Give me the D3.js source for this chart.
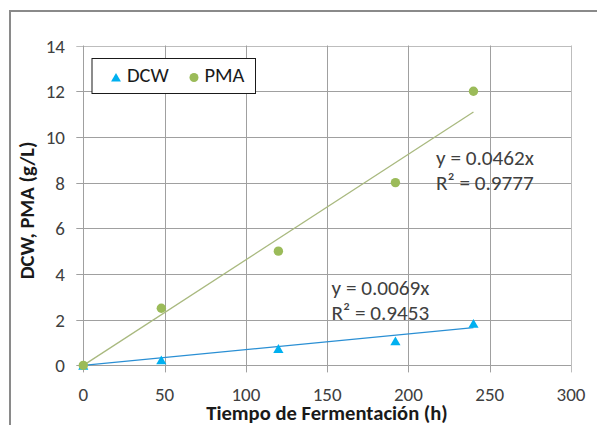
<!DOCTYPE html>
<html>
<head>
<meta charset="utf-8">
<script src="https://cdn.jsdelivr.net/npm/d3@7"></script>
<style>
  html, body { margin: 0; padding: 0; background: #fff; }
  svg { display: block; font-family: Calibri, Carlito, "Open Sans", "Liberation Sans", sans-serif; }
</style>
</head>
<body>
<svg id="chart" width="597" height="425"></svg>
<script>
// Fermentation time (h) and measured concentrations (g/L)
const timeH = [0, 48, 120, 192, 240];
const dcw = [0, 0.24, 0.74, 1.07, 1.84];
const pma = [0, 2.5, 5, 8, 12];

// Linear fits through the origin
const dcwSlope = 0.0069, dcwR2 = 0.9453;
const pmaSlope = 0.0462, pmaR2 = 0.9777;
const fitEnd = 240;

const xTicks = [0, 50, 100, 150, 200, 250, 300];
const yTicks = [0, 2, 4, 6, 8, 10, 12, 14];

const seriesNames = ["DCW", "PMA"];
const xTitle = "Tiempo de Fermentación (h)";
const yTitle = "DCW, PMA (g/L)";

const colDCW = "#00b0f0", colPMA = "#9bbb59";
const colDCWline = "#2a8fd4", colPMAline = "#a9b97f";
const tickFS = 19, titleFS = 20.6, noteFS = 21.2, legendFS = 20.5;

const svg = d3.select("#chart");
const W = 597, H = 425;
const plot = { left: 83.3, right: 571, top: 45.5, bottom: 365.4 };

const x = d3.scaleLinear().domain([0, 300]).range([plot.left, plot.right]);
const y = d3.scaleLinear().domain([0, 14]).range([plot.bottom, plot.top]);

// triangle marker centred on its bounding box
const boxTriangle = {
  draw(ctx, size) {
    const a = Math.sqrt(4 * size / Math.sqrt(3));
    const h = a * Math.sqrt(3) / 2;
    ctx.moveTo(0, -h / 2);
    ctx.lineTo(a / 2, h / 2);
    ctx.lineTo(-a / 2, h / 2);
    ctx.closePath();
  }
};

// outer chart frame (extends past the visible area on right and bottom)
svg.append("rect")
  .attr("x", 10).attr("y", 11)
  .attr("width", W + 20).attr("height", H + 20)
  .attr("fill", "none").attr("stroke", "#8a8a8a").attr("stroke-width", 2);

// gridlines with short outside ticks
const grid = svg.append("g");
grid.selectAll("line.h").data(yTicks).join("line")
  .attr("x1", plot.left - 7).attr("x2", plot.right)
  .attr("y1", d => Math.round(y(d)) + 0.5).attr("y2", d => Math.round(y(d)) + 0.5)
  .attr("stroke", d => d === 14 ? "#bdbdbd" : "#a0a0a0").attr("stroke-width", 1);
grid.selectAll("line.v").data(xTicks).join("line")
  .attr("y1", plot.top).attr("y2", plot.bottom + 7)
  .attr("x1", d => Math.round(x(d)) + 0.5).attr("x2", d => Math.round(x(d)) + 0.5)
  .attr("stroke", d => d === 300 ? "#bdbdbd" : "#a0a0a0").attr("stroke-width", 1);

// tick labels
svg.append("g").selectAll("text").data(yTicks).join("text")
  .attr("x", 65).attr("y", d => y(d) + 7)
  .attr("text-anchor", "end").attr("font-size", tickFS).attr("fill", "#404040")
  .text(d => d);
svg.append("g").selectAll("text").data(xTicks).join("text")
  .attr("x", d => x(d)).attr("y", 400.5)
  .attr("text-anchor", "middle").attr("font-size", tickFS).attr("fill", "#404040")
  .text(d => d);

// axis titles
svg.append("text")
  .attr("x", 327).attr("y", 419.5)
  .attr("text-anchor", "middle").attr("font-size", titleFS).attr("font-weight", "bold")
  .attr("fill", "#1a1a1a").text(xTitle);
svg.append("text")
  .attr("transform", "translate(33.5,210.5) rotate(-90)")
  .attr("text-anchor", "middle").attr("font-size", titleFS).attr("font-weight", "bold")
  .attr("fill", "#1a1a1a").text(yTitle);

// trend lines
const line = d3.line().x(d => x(d[0])).y(d => y(d[1]));
svg.append("path").datum([[0, 0], [fitEnd, pmaSlope * fitEnd]])
  .attr("d", line).attr("stroke", colPMAline).attr("stroke-width", 1.3).attr("fill", "none");
svg.append("path").datum([[0, 0], [fitEnd, dcwSlope * fitEnd]])
  .attr("d", line).attr("stroke", colDCWline).attr("stroke-width", 1.3).attr("fill", "none");

// markers
const tri = d3.symbol().type(boxTriangle).size(45);
svg.append("g").selectAll("path").data(timeH.map((t, i) => [t, dcw[i]])).join("path")
  .attr("transform", d => `translate(${x(d[0])},${y(d[1])})`)
  .attr("d", tri).attr("fill", colDCW);
svg.append("g").selectAll("circle").data(timeH.map((t, i) => [t, pma[i]])).join("circle")
  .attr("cx", d => x(d[0])).attr("cy", d => y(d[1])).attr("r", 4.7)
  .attr("fill", colPMA);

// fit equations
function fitLabel(px, py, slope, r2) {
  const g = svg.append("g").attr("font-size", noteFS).attr("fill", "#404040");
  g.append("text").attr("x", px).attr("y", py).text(`y = ${slope.toFixed(4)}x`);
  g.append("text").attr("x", px).attr("y", py + 25).text(`R² = ${r2.toFixed(4)}`);
}
fitLabel(436, 164.5, pmaSlope, pmaR2);
fitLabel(331.5, 294.5, dcwSlope, dcwR2);

// legend
const lg = svg.append("g");
lg.append("rect").attr("x", 92).attr("y", 58.5).attr("width", 163.5).attr("height", 35)
  .attr("fill", "#fff").attr("stroke", "#1a1a1a").attr("stroke-width", 1);
lg.append("path").attr("transform", "translate(116,77.3)")
  .attr("d", d3.symbol().type(boxTriangle).size(42)).attr("fill", colDCW);
lg.append("text").attr("x", 127).attr("y", 81.7)
  .attr("font-size", legendFS).attr("fill", "#1a1a1a").text(seriesNames[0]);
lg.append("circle").attr("cx", 194).attr("cy", 77.5).attr("r", 4.5).attr("fill", colPMA);
lg.append("text").attr("x", 204.5).attr("y", 81.7)
  .attr("font-size", legendFS).attr("fill", "#1a1a1a").text(seriesNames[1]);
</script>
</body>
</html>
